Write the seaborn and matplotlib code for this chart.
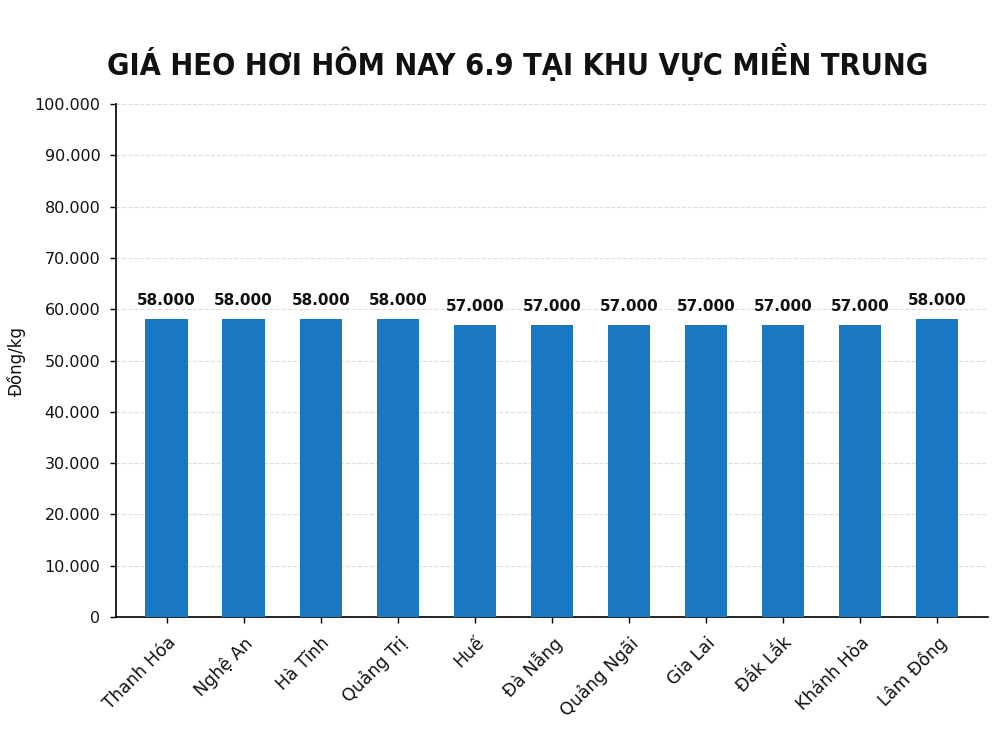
import matplotlib
matplotlib.use("Agg")
import matplotlib.pyplot as plt
import matplotlib.ticker as mticker
import pandas as pd
import seaborn as sns

provinces = [
    "Thanh Hóa", "Nghệ An", "Hà Tĩnh", "Quảng Trị", "Huế", "Đà Nẵng",
    "Quảng Ngãi", "Gia Lai", "Đắk Lắk", "Khánh Hòa", "Lâm Đồng",
]
prices = [58000, 58000, 58000, 58000, 57000, 57000, 57000, 57000, 57000, 57000, 58000]
y_ticks = list(range(0, 100001, 10000))

TITLE = "GIÁ HEO HƠI HÔM NAY 6.9 TẠI KHU VỰC MIỀN TRUNG"
BAR_COLOR = "#1a78c2"


def fmt_vn(v, _pos=None):
    return f"{int(round(v)):,}".replace(",", ".")


def main() -> None:
    sns.set_theme(style="white")
    plt.rcParams["font.family"] = ["DejaVu Sans"]

    df = pd.DataFrame({"province": provinces, "price": prices})

    fig = plt.figure(figsize=(9.98, 7.48), dpi=100)
    ax = fig.add_axes([0.116, 0.175, 0.874, 0.686])

    sns.barplot(data=df, x="province", y="price", color=BAR_COLOR,
                saturation=1, width=0.55, linewidth=0, ax=ax, zorder=3)

    ax.set_ylim(0, 100000)
    ax.set_xlim(-0.66, len(provinces) - 0.34)
    ax.set_yticks(y_ticks)
    ax.yaxis.set_major_formatter(mticker.FuncFormatter(fmt_vn))
    ax.grid(axis="y", linestyle="--", color="#dddddd", linewidth=0.8, zorder=0)
    ax.set_axisbelow(True)

    for s in ("top", "right"):
        ax.spines[s].set_visible(False)
    for s in ("left", "bottom"):
        ax.spines[s].set_color("black")
        ax.spines[s].set_linewidth(1.2)

    ax.tick_params(axis="both", which="major", length=4, width=1, color="black",
                   labelcolor="#111111", left=True, bottom=True)
    ax.tick_params(axis="y", labelsize=11.5, pad=7)
    ax.tick_params(axis="x", labelsize=12.5, pad=8)
    plt.setp(ax.get_xticklabels(), rotation=45, ha="right", rotation_mode="anchor")

    ax.set_xlabel("")
    ax.set_ylabel("Đồng/kg", fontsize=12, color="#111111", labelpad=6)

    for i, p in enumerate(prices):
        ax.annotate(fmt_vn(p), (i, p), xytext=(0, 8), textcoords="offset points",
                    ha="center", va="bottom", fontsize=11, fontweight="bold",
                    color="#111111")

    fig.text(0.519, 0.917, TITLE, ha="center", va="center", fontsize=22,
             fontweight="heavy", fontstretch="condensed", color="#111111")

    fig.savefig("out.png", dpi=100, facecolor="white")
    plt.close(fig)


if __name__ == "__main__":
    main()
